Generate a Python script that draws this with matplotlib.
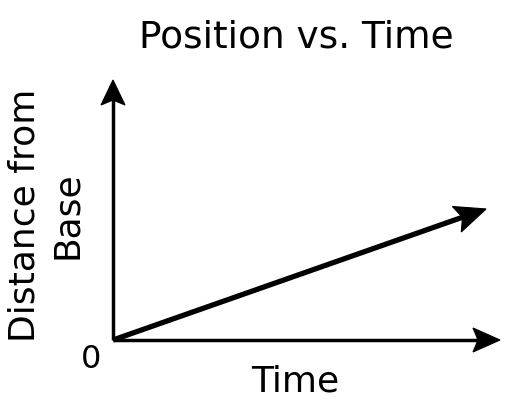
import matplotlib
matplotlib.use("Agg")
import matplotlib.pyplot as plt
from matplotlib.patches import Polygon
from matplotlib.transforms import IdentityTransform
import numpy as np

# data: a straight distance-vs-time line starting at the origin
time = [0.0, 0.964]
distance = [0.0, 0.504]

title = "Position vs. Time"
xlabel = "Time"
ylabel = "Distance from\nBase"
origin_label = "0"

W, H = 518, 408
fig = plt.figure(figsize=(W / 100, H / 100), dpi=100)
plt.rcParams["font.family"] = ["DejaVu Sans"]

# axes: origin at pixel (113,340), x-arrow tip at 500, y-arrow tip at 80
ax = fig.add_axes([113 / W, (H - 340) / H, (500 - 113) / W, (340 - 80) / H])
ax.set_xlim(0, 1); ax.set_ylim(0, 1)
ax.axis("off")


def notched_arrow(ax, p0, p1, trans, lw, head_len=25, head_w=11, notch=5):
    """shaft + notched (barbed) head, built in pixel space"""
    a = trans.transform(p0); b = trans.transform(p1)
    d = (b - a) / np.linalg.norm(b - a)
    n = np.array([-d[1], d[0]])
    back = b - d * head_len
    inner = back + d * notch
    ax.plot([a[0], inner[0]], [a[1], inner[1]], color="k", lw=lw, solid_capstyle="butt",
            transform=IdentityTransform(), clip_on=False)
    pts = [b, back + n * head_w, inner, back - n * head_w]
    ax.add_patch(Polygon(pts, closed=True, fc="k", ec="k", lw=0.8,
                         transform=IdentityTransform(), clip_on=False))


notched_arrow(ax, (0, 0), (1, 0), ax.transAxes, lw=2.5, head_len=27, head_w=12)
notched_arrow(ax, (0, 0), (0, 1), ax.transAxes, lw=2.5, head_len=25, head_w=12)
notched_arrow(ax, (time[0], distance[0]), (time[1], distance[1]), ax.transData,
              lw=3.8, head_len=31, head_w=13.5, notch=6)

fig.text(296 / W, 1 - 38 / H, title, ha="center", va="center", fontsize=27)
fig.text(295 / W, 1 - 381 / H, xlabel, ha="center", va="center", fontsize=26)
fig.text(46 / W, 1 - 215 / H, ylabel, ha="center", va="center", fontsize=26,
         rotation=90, multialignment="center", linespacing=1.3)
fig.text(91 / W, 1 - 360 / H, origin_label, ha="center", va="center", fontsize=23)

fig.savefig("out.png", dpi=100)
